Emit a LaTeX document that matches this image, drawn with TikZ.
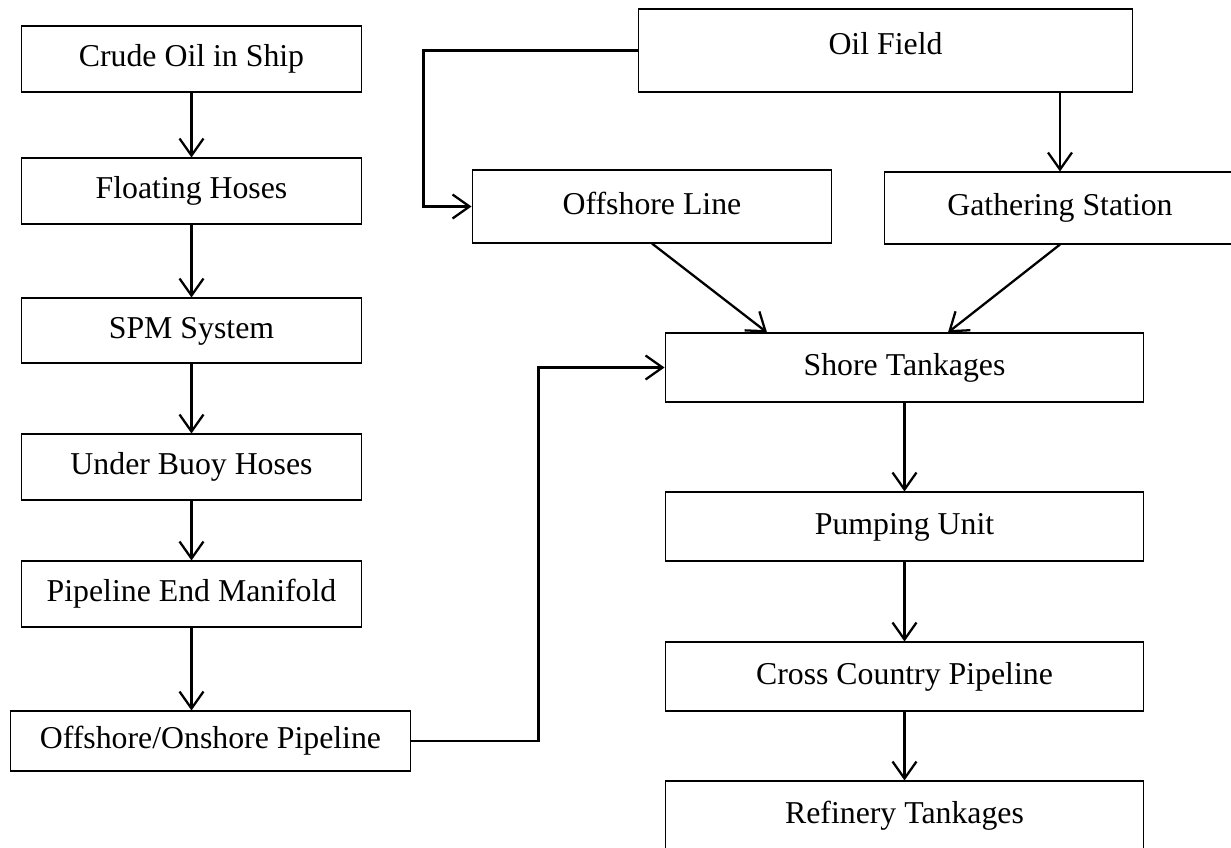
\documentclass[tikz,border=0pt]{standalone}
\usepackage{fontspec}
\setmainfont{Liberation Serif}
\usetikzlibrary{arrows.meta}
\begin{document}
\begin{tikzpicture}[x=0.02cm, y=-0.02cm,
  every node/.style={draw, line width=0.6pt, align=center, inner sep=0pt,
    font=\fontsize{18.1}{22}\selectfont, text height=1.15em, text depth=0.25em},
  arr/.style={line width=1.3pt, -{Straight Barb[length=0.34cm, width=0.48cm, line width=1.3pt]}}]
\useasboundingbox (0,0) rectangle (1231,848);

% left column: ship to pipeline
\node[minimum width=6.82cm, minimum height=1.32cm] (crude) at (191.5, 59) {Crude Oil in Ship};
\node[minimum width=6.82cm, minimum height=1.32cm] (hoses) at (191.5, 191) {Floating Hoses};
\node[minimum width=6.82cm, minimum height=1.30cm] (spm) at (191.5, 330.5) {SPM System};
\node[minimum width=6.82cm, minimum height=1.32cm] (buoy) at (191.5, 467) {Under Buoy Hoses};
\node[minimum width=6.82cm, minimum height=1.32cm] (plem) at (191.5, 594) {Pipeline End Manifold};
\node[minimum width=8.02cm, minimum height=1.20cm] (pipe) at (210.5, 741) {Offshore/Onshore Pipeline};

% right side: field to refinery
\node[minimum width=9.90cm, minimum height=1.66cm, text depth=0.75em] (field) at (885.5, 50.5) {Oil Field};
\node[minimum width=7.20cm, minimum height=1.46cm] (offline) at (652, 206.5) {Offshore Line};
\node[minimum width=7.04cm, minimum height=1.44cm] (gather) at (1060, 208) {Gathering Station};
\node[minimum width=9.58cm, minimum height=1.38cm] (shore) at (904.5, 367.5) {Shore Tankages};
\node[minimum width=9.58cm, minimum height=1.38cm] (pump) at (904.5, 526.5) {Pumping Unit};
\node[minimum width=9.58cm, minimum height=1.38cm] (cross) at (904.5, 676.5) {Cross Country Pipeline};
\node[minimum width=9.58cm, minimum height=1.38cm] (refinery) at (904.5, 815.5) {Refinery Tankages};

\draw[arr] (crude.south) -- (hoses.north);
\draw[arr] (hoses.south) -- (spm.north);
\draw[arr] (spm.south) -- (buoy.north);
\draw[arr] (buoy.south) -- (plem.north);
\draw[arr] (plem.south) -- (pipe.north -| plem.south);

\draw[arr] (field.west) -- ++(-214,0) |- (offline.west);
\draw[arr] (field.south -| gather.north) -- (gather.north);
\draw[arr] (offline.south) -- ([xshift=-2.75cm]shore.north);
\draw[arr] (gather.south) -- ([xshift=0.87cm]shore.north);
\draw[arr] (pipe.east) -- ++(127,0) |- (shore.west);

\draw[arr] (shore.south) -- (pump.north);
\draw[arr] (pump.south) -- (cross.north);
\draw[arr] (cross.south) -- (refinery.north);
\end{tikzpicture}
\end{document}
